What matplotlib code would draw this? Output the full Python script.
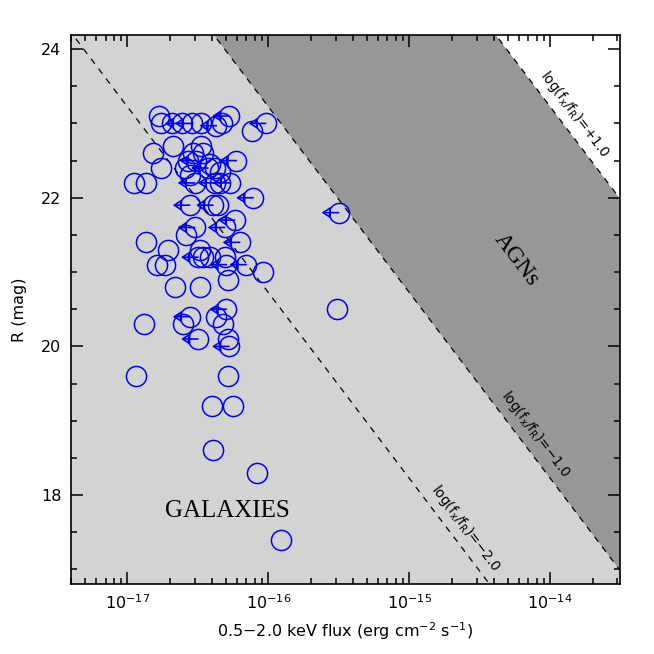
import numpy as np
import matplotlib
matplotlib.use('Agg')
import matplotlib.pyplot as plt
from matplotlib import ticker

# ---- data ----
# 0.5-2.0 keV flux in units of 1e-17 erg cm^-2 s^-1
flux17 = [1.68, 1.74, 2.06, 2.43, 2.86, 3.35, 4.28, 4.66, 5.26, 7.70, 9.57,
          2.11, 1.52, 1.74, 3.35, 2.92, 2.69, 3.42, 3.09, 3.83, 4.16, 2.55,
          2.77, 3.73, 5.93, 4.51,
          1.12, 1.36, 3.00, 4.16, 4.51, 5.31,
          7.80, 2.77, 4.05, 4.37, 31.5,
          5.77, 3.00, 2.62, 4.90, 6.26, 1.36, 1.94, 3.26, 3.17, 3.42, 3.83,
          4.90, 1.61, 1.84, 5.04, 6.98, 9.16, 5.17, 2.17, 3.26,
          30.5, 5.04, 2.77, 4.28, 2.48, 4.76, 1.305, 3.17, 5.17, 5.26,
          1.145, 5.17, 3.96, 5.61, 4.05, 8.36, 12.2]
# R magnitude
rmag = [23.1, 23.0, 23.0, 23.0, 23.0, 23.0, 22.97, 23.0, 23.1, 22.9, 23.0,
        22.7, 22.6, 22.4, 22.7, 22.6, 22.5, 22.6, 22.5, 22.45, 22.4, 22.4,
        22.3, 22.4, 22.5, 22.35,
        22.2, 22.2, 22.2, 22.2, 22.2, 22.2,
        22.0, 21.9, 21.9, 21.9, 21.8,
        21.7, 21.6, 21.5, 21.6, 21.4, 21.4, 21.3, 21.3, 21.2, 21.2, 21.2,
        21.2, 21.1, 21.1, 21.1, 21.1, 21.0, 20.9, 20.8, 20.8,
        20.5, 20.5, 20.4, 20.4, 20.3, 20.3, 20.3, 20.1, 20.1, 20.0,
        19.6, 19.6, 19.2, 19.2, 18.6, 18.3, 17.4]
# 1 = flux upper limit (arrow)
upper = [0, 0, 0, 1, 1, 0, 1, 0, 1, 0, 1,
         0, 0, 0, 0, 0, 0, 0, 1, 0, 0, 0,
         0, 1, 1, 0,
         0, 0, 1, 1, 0, 1,
         1, 1, 1, 0, 1,
         1, 1, 0, 1, 1, 0, 0, 0, 1, 0, 0,
         0, 0, 0, 1, 1, 0, 0, 0, 0,
         0, 1, 1, 0, 0, 0, 0, 1, 0, 1,
         0, 0, 0, 0, 0, 0, 0]

ratio_levels = [-2.0, -1.0, 1.0]
ratio_labels = ['log(f$_{\\rm x}$/f$_{\\rm R}$)=\u22122.0',
                'log(f$_{\\rm x}$/f$_{\\rm R}$)=\u22121.0',
                'log(f$_{\\rm x}$/f$_{\\rm R}$)=+1.0']
label_logflux = [-14.684, -14.19, -13.909]
zero_point = 5.71

xticks = [1e-17, 1e-16, 1e-15, 1e-14]
yticks = [18, 20, 22, 24]
xlim = (10 ** -17.40, 10 ** -13.505)
ylim = (16.81, 24.19)


def r_line(f, c):
    return 2.5 * (c - zero_point - np.log10(f))


fig = plt.figure(figsize=(6.54, 6.54), dpi=100)
ax = fig.add_axes([71 / 654, 1 - 583.5 / 654, 549 / 654, 548.5 / 654])
ax.set_xscale('log')
ax.set_xlim(*xlim)
ax.set_ylim(*ylim)
ax.set_facecolor('#d3d3d3')

fgrid = np.logspace(np.log10(xlim[0]) - 0.5, np.log10(xlim[1]) + 0.5, 400)
ax.fill_between(fgrid, r_line(fgrid, -1.0), r_line(fgrid, 1.0),
                color='#979797', lw=0, zorder=1)
ax.fill_between(fgrid, r_line(fgrid, 1.0), 40, color='white', lw=0, zorder=1)
for c in ratio_levels:
    ax.plot(fgrid, r_line(fgrid, c), color='black', lw=0.9,
            ls=(0, (5, 5)), zorder=2)

# rotation of the lines on screen
p0 = ax.transData.transform((1e-16, r_line(1e-16, 0)))
p1 = ax.transData.transform((1e-15, r_line(1e-15, 0)))
ang = np.degrees(np.arctan2(p1[1] - p0[1], p1[0] - p0[0]))
nx, ny = -np.sin(np.radians(ang)), np.cos(np.radians(ang))
off = 10.8
for c, lab, lf in zip(ratio_levels, ratio_labels, label_logflux):
    f = 10 ** lf
    ax.annotate(lab, xy=(f, r_line(f, c)), xytext=(nx * off, ny * off),
                textcoords='offset points', rotation=ang,
                rotation_mode='anchor', ha='center', va='center',
                fontsize=9.8, zorder=5)

ax.text(5.77e-15, 21.17, 'AGNs', family='Liberation Serif', fontsize=17,
        rotation=ang, rotation_mode='anchor', ha='center', va='center',
        zorder=5)
ax.text(5.14e-17, 17.79, 'GALAXIES', family='Liberation Serif', fontsize=18,
        ha='center', va='center', zorder=5)

fx = np.array(flux17) * 1e-17
ax.plot(fx, rmag, 'o', ls='none', mfc='none', mec='blue', ms=14.5, mew=1.1,
        zorder=4)
for f, r, u in zip(fx, rmag, upper):
    if u:
        ax.annotate('', xy=(f * 10 ** -0.12, r), xytext=(f, r),
                    arrowprops=dict(arrowstyle='-|>,head_length=0.5,head_width=0.33',
                                    ec='blue', fc='none', lw=1.2,
                                    shrinkA=0, shrinkB=0),
                    zorder=4)

ax.xaxis.set_major_locator(ticker.FixedLocator(xticks))
ax.xaxis.set_major_formatter(ticker.LogFormatterSciNotation())
minor_x = [m * 10.0 ** e for e in range(-18, -13) for m in range(2, 10)]
minor_x = [v for v in minor_x if xlim[0] <= v <= xlim[1]]
ax.xaxis.set_minor_locator(ticker.FixedLocator(minor_x))
ax.xaxis.set_minor_formatter(ticker.NullFormatter())
ax.yaxis.set_major_locator(ticker.FixedLocator(yticks))
ax.yaxis.set_minor_locator(ticker.MultipleLocator(0.5))
ax.yaxis.set_minor_formatter(ticker.NullFormatter())
ax.tick_params(which='both', direction='in', top=True, right=True,
               labelsize=11.5, width=1.1)
ax.tick_params(which='major', length=8.5, pad=7)
ax.tick_params(which='minor', length=4.2)
for s in ax.spines.values():
    s.set_linewidth(1.2)
    s.set_zorder(6)

ax.set_xlabel('0.5\u22122.0 keV flux (erg cm$^{-2}$ s$^{-1}$)', fontsize=11.5,
              labelpad=6)
ax.set_ylabel('R (mag)', fontsize=11.5, labelpad=10)

fig.savefig('out.png', dpi=100)
